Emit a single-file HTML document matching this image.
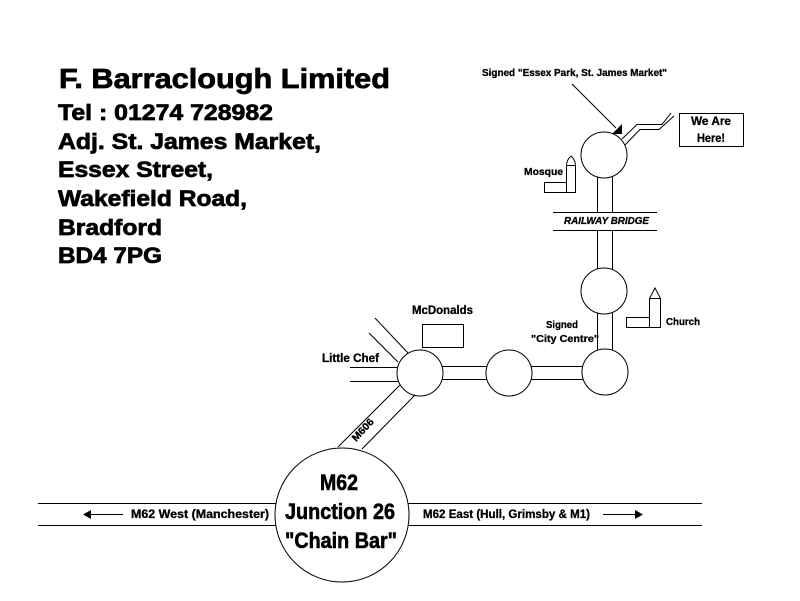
<!DOCTYPE html>
<html>
<head>
<meta charset="utf-8">
<style>
  html, body { margin: 0; padding: 0; background: #fff; }
  svg { display: block; }
</style>
</head>
<body>
<svg width="800" height="601" viewBox="0 0 800 601" xmlns="http://www.w3.org/2000/svg">
  <rect width="800" height="601" fill="#fff"/>

  <!-- Address block -->
  <g font-family="'Liberation Sans', Arial, sans-serif" font-weight="bold" fill="#000" stroke="#000" stroke-width="0.7">
    <text x="59" y="88" font-size="27.5" textLength="331" lengthAdjust="spacingAndGlyphs">F. Barraclough Limited</text>
    <text x="58" y="120" font-size="22" textLength="215" lengthAdjust="spacingAndGlyphs">Tel : 01274 728982</text>
    <text x="58" y="149" font-size="22" textLength="263" lengthAdjust="spacingAndGlyphs">Adj. St. James Market,</text>
    <text x="58" y="177" font-size="22" textLength="155" lengthAdjust="spacingAndGlyphs">Essex Street,</text>
    <text x="58" y="206" font-size="22" textLength="189" lengthAdjust="spacingAndGlyphs">Wakefield Road,</text>
    <text x="58" y="235" font-size="22" textLength="104" lengthAdjust="spacingAndGlyphs">Bradford</text>
    <text x="58" y="263" font-size="22" textLength="104" lengthAdjust="spacingAndGlyphs">BD4 7PG</text>
  </g>

  <g fill="none" stroke="#000" stroke-width="1">
    <!-- M62 motorway -->
    <line x1="38" y1="503.5" x2="276" y2="503.5"/>
    <line x1="38" y1="525.5" x2="276" y2="525.5"/>
    <line x1="408" y1="503.5" x2="702" y2="503.5"/>
    <line x1="408" y1="525.5" x2="702" y2="525.5"/>
    <!-- arrows -->
    <line x1="89" y1="514.5" x2="123" y2="514.5"/>
    <line x1="603" y1="514.5" x2="637" y2="514.5"/>

    <!-- Big junction circle -->
    <circle cx="342" cy="515" r="67"/>

    <!-- M606 -->
    <line x1="338" y1="447" x2="400" y2="385"/>
    <line x1="362" y1="449" x2="415" y2="395"/>

    <!-- Roundabouts -->
    <circle cx="420" cy="373" r="23"/>
    <circle cx="509" cy="373" r="23"/>
    <circle cx="605" cy="372" r="23"/>
    <circle cx="604" cy="291" r="23"/>
    <circle cx="604" cy="155" r="23"/>

    <!-- horizontal roads -->
    <line x1="442" y1="366.5" x2="487" y2="366.5"/>
    <line x1="442" y1="379.5" x2="487" y2="379.5"/>
    <line x1="531" y1="366.5" x2="583" y2="366.5"/>
    <line x1="531" y1="379.5" x2="583" y2="379.5"/>

    <!-- vertical roads -->
    <line x1="597.5" y1="313" x2="597.5" y2="350"/>
    <line x1="612.5" y1="313" x2="612.5" y2="350"/>
    <line x1="597.5" y1="230" x2="597.5" y2="269"/>
    <line x1="612.5" y1="230" x2="612.5" y2="269"/>
    <line x1="597.5" y1="177" x2="597.5" y2="212"/>
    <line x1="612.5" y1="177" x2="612.5" y2="212"/>

    <!-- Railway bridge -->
    <line x1="553" y1="212.5" x2="657" y2="212.5"/>
    <line x1="553" y1="230.5" x2="657" y2="230.5"/>

    <!-- Little Chef roads -->
    <line x1="350" y1="367.5" x2="398" y2="367.5"/>
    <line x1="350" y1="381.5" x2="398" y2="381.5"/>
    <line x1="375" y1="318" x2="408" y2="353"/>
    <line x1="369" y1="333" x2="398" y2="362"/>

    <!-- McDonalds -->
    <rect x="422.5" y="324.5" width="41" height="23"/>

    <!-- Church -->
    <rect x="649.5" y="298.5" width="11" height="29"/>
    <polyline points="649.5,298.5 655,288 660.5,298.5"/>
    <rect x="626.5" y="317.5" width="23" height="10"/>

    <!-- Mosque -->
    <rect x="566.5" y="165.5" width="9" height="27"/>
    <path d="M566.5,165.5 Q566.5,160 571,156 Q575.5,160 575.5,165.5"/>
    <rect x="544.5" y="182.5" width="22" height="10"/>

    <!-- Road to We Are Here -->
    <polyline points="622,139 637,124.5 662,124.5 671,113"/>
    <polyline points="625,145 640,129.5 659,129.5 674,116"/>

    <!-- We Are Here box -->
    <rect x="679.5" y="113.5" width="64" height="33"/>

    <!-- pointer -->
    <line x1="572" y1="84" x2="616" y2="128"/>
  </g>

  <g fill="#000" stroke="none">
    <polygon points="83,514.5 91,510 91,519"/>
    <polygon points="643,514.5 635,510 635,519"/>
    <polygon points="612,134 622,124 622,134"/>
  </g>

  <!-- Labels -->
  <g font-family="'Liberation Sans', Arial, sans-serif" font-weight="bold" fill="#000" stroke="#000" stroke-width="0.3">
    <text x="131" y="518" font-size="11.5" textLength="138" lengthAdjust="spacingAndGlyphs">M62 West (Manchester)</text>
    <text x="423" y="518" font-size="11.5" textLength="167" lengthAdjust="spacingAndGlyphs">M62 East (Hull, Grimsby &amp; M1)</text>

    <text x="0" y="0" font-size="10" textLength="27" lengthAdjust="spacingAndGlyphs" transform="translate(356,442) rotate(-47)">M606</text>

    <text x="322" y="362" font-size="12" textLength="57" lengthAdjust="spacingAndGlyphs">Little Chef</text>
    <text x="412" y="314" font-size="12" textLength="61" lengthAdjust="spacingAndGlyphs">McDonalds</text>
    <text x="546" y="328" font-size="10.5" textLength="32" lengthAdjust="spacingAndGlyphs">Signed</text>
    <text x="531" y="342" font-size="10.5" textLength="68" lengthAdjust="spacingAndGlyphs">"City Centre"</text>
    <text x="666" y="325" font-size="10.5" textLength="34" lengthAdjust="spacingAndGlyphs">Church</text>
    <text x="524" y="175" font-size="10.5" textLength="39" lengthAdjust="spacingAndGlyphs">Mosque</text>
    <text x="564" y="224" font-size="10.5" font-style="italic" textLength="85" lengthAdjust="spacingAndGlyphs">RAILWAY BRIDGE</text>
    <text x="482" y="76" font-size="10.5" textLength="185" lengthAdjust="spacingAndGlyphs">Signed "Essex Park, St. James Market"</text>
    <text x="691" y="125" font-size="12" textLength="40" lengthAdjust="spacingAndGlyphs">We Are</text>
    <text x="697" y="142" font-size="12" textLength="28" lengthAdjust="spacingAndGlyphs">Here!</text>
  </g>

  <g font-family="'Liberation Sans', Arial, sans-serif" font-weight="bold" fill="#000" stroke="#000" stroke-width="0.6">
    <text x="320" y="490" font-size="22.5" textLength="38" lengthAdjust="spacingAndGlyphs">M62</text>
    <text x="285" y="519" font-size="22.5" textLength="110" lengthAdjust="spacingAndGlyphs">Junction 26</text>
    <text x="285" y="548" font-size="22.5" textLength="112" lengthAdjust="spacingAndGlyphs">"Chain Bar"</text>
  </g>
</svg>
</body>
</html>
